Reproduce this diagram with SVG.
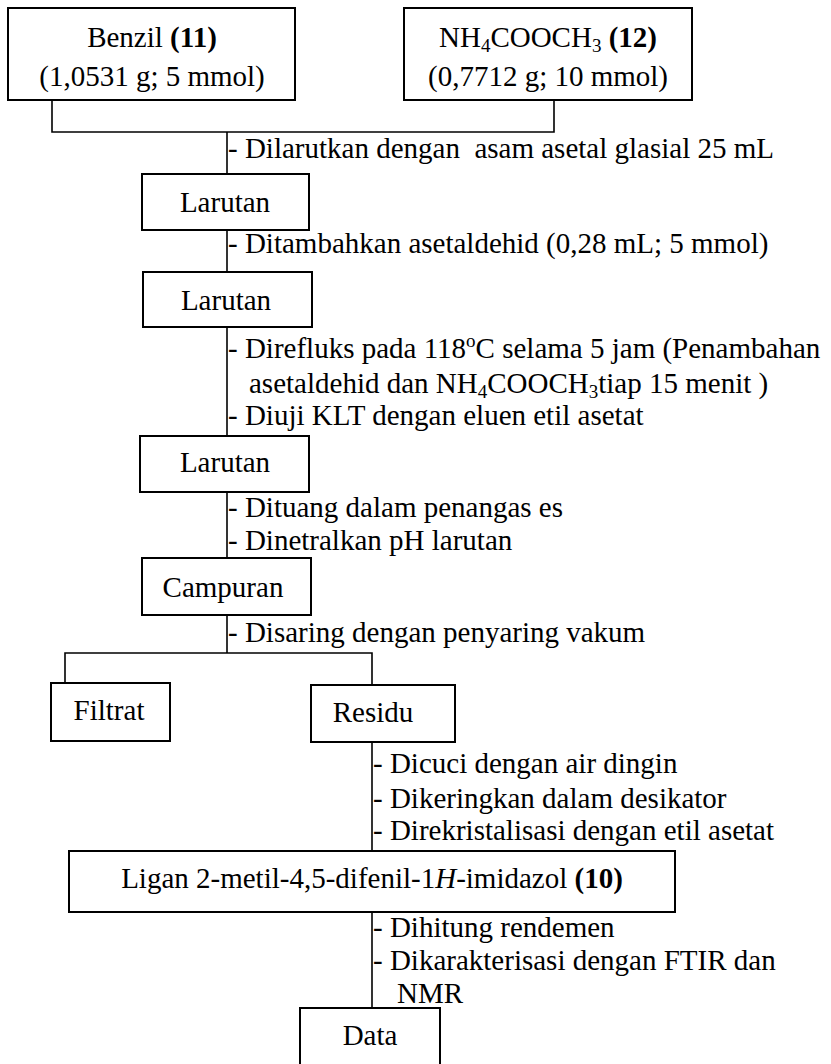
<svg xmlns="http://www.w3.org/2000/svg" width="831" height="1064" viewBox="0 0 831 1064">
<style>
.box{fill:#fff;stroke:#000;stroke-width:2}
.ln{fill:none;stroke:#000;stroke-width:1.6}
text{font-family:"Liberation Serif","Times New Roman",serif;font-size:29px;fill:#000}
.c{text-anchor:middle}
.b{font-weight:bold}
.sub{font-size:19px}
</style>
<rect width="831" height="1064" fill="#fff"/>
<g id="connectors">
<polyline class="ln" points="52,100 52,132 554,132 554,100"/>
<line class="ln" x1="227" y1="132" x2="227" y2="174"/>
<line class="ln" x1="227" y1="230" x2="227" y2="272"/>
<line class="ln" x1="227" y1="327" x2="227" y2="436"/>
<line class="ln" x1="227" y1="492" x2="227" y2="558"/>
<line class="ln" x1="227" y1="615" x2="227" y2="653"/>
<polyline class="ln" points="65,683 65,653 372,653 372,685"/>
<line class="ln" x1="372" y1="742" x2="372" y2="851"/>
<line class="ln" x1="372" y1="912" x2="372" y2="1008"/>
</g>
<g id="labels">
<text x="228" y="158">- Dilarutkan dengan&#160; asam asetal glasial 25 mL</text>
<text x="228" y="253">- Ditambahkan asetaldehid (0,28 mL; 5 mmol)</text>
<text x="228" y="358">- Direfluks pada 118<tspan class="sub" dy="-11">o</tspan><tspan dy="11">C selama 5 jam (Penambahan</tspan></text>
<text x="249" y="393">asetaldehid dan NH<tspan class="sub" dy="5">4</tspan><tspan dy="-5">COOCH</tspan><tspan class="sub" dy="5">3</tspan><tspan dy="-5">tiap 15 menit )</tspan></text>
<text x="228" y="425">- Diuji KLT dengan eluen etil asetat</text>
<text x="228" y="517">- Dituang dalam penangas es</text>
<text x="228" y="550">- Dinetralkan pH larutan</text>
<text x="228" y="642">- Disaring dengan penyaring vakum</text>
<text x="373" y="773">- Dicuci dengan air dingin</text>
<text x="373" y="808">- Dikeringkan dalam desikator</text>
<text x="373" y="840">- Direkristalisasi dengan etil asetat</text>
<text x="373" y="937">- Dihitung rendemen</text>
<text x="373" y="970">- Dikarakterisasi dengan FTIR dan</text>
<text x="397" y="1003">NMR</text>
</g>
<g id="benzil">
<rect class="box" x="8" y="8" width="287" height="92"/>
<text class="c" x="152" y="47">Benzil <tspan class="b">(11)</tspan></text>
<text class="c" x="152" y="86">(1,0531 g; 5 mmol)</text>
</g>
<g id="amonium">
<rect class="box" x="404" y="8" width="288" height="92"/>
<text class="c" x="548" y="47">NH<tspan class="sub" dy="5">4</tspan><tspan dy="-5">COOCH</tspan><tspan class="sub" dy="5">3</tspan><tspan dy="-5"> </tspan><tspan class="b">(12)</tspan></text>
<text class="c" x="548" y="86">(0,7712 g; 10 mmol)</text>
</g>
<g id="larutan1">
<rect class="box" x="142" y="174" width="167" height="56"/>
<text class="c" x="225" y="212">Larutan</text>
</g>
<g id="larutan2">
<rect class="box" x="143" y="272" width="169" height="55"/>
<text class="c" x="226" y="310">Larutan</text>
</g>
<g id="larutan3">
<rect class="box" x="140" y="436" width="169" height="56"/>
<text class="c" x="225" y="472">Larutan</text>
</g>
<g id="campuran">
<rect class="box" x="142" y="558" width="169" height="57"/>
<text class="c" x="223" y="597">Campuran</text>
</g>
<g id="filtrat">
<rect class="box" x="51" y="683" width="119" height="58"/>
<text class="c" x="109" y="720">Filtrat</text>
</g>
<g id="residu">
<rect class="box" x="311" y="685" width="144" height="57"/>
<text class="c" x="373" y="722">Residu</text>
</g>
<g id="ligan">
<rect class="box" x="69" y="851" width="606" height="61"/>
<text class="c" x="372" y="888">Ligan 2-metil-4,5-difenil-1<tspan font-style="italic">H</tspan>-imidazol <tspan class="b">(10)</tspan></text>
</g>
<g id="data">
<rect class="box" x="300" y="1008" width="140" height="60"/>
<text class="c" x="370" y="1045">Data</text>
</g>
</svg>
